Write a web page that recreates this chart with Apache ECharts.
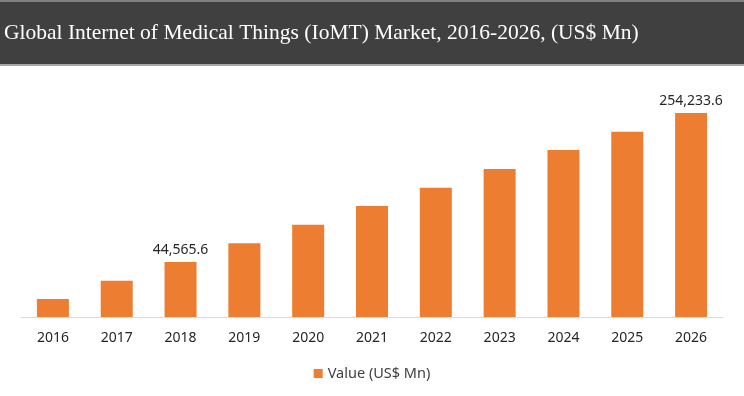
<!DOCTYPE html>
<html>
<head>
<meta charset="utf-8">
<script src="https://cdn.jsdelivr.net/npm/echarts@6/dist/echarts.min.js"></script>
<style>
    html, body { margin: 0; padding: 0; background: #fff; }
    #chart { width: 744px; height: 396px; }
</style>
</head>
<body>
<div id="chart"></div>
<script>
var titleText = 'Global Internet of Medical Things (IoMT) Market, 2016-2026, (US$ Mn)';
var seriesName = 'Value (US$ Mn)';
var years = ['2016', '2017', '2018', '2019', '2020', '2021', '2022', '2023', '2024', '2025', '2026'];
var values = [28930, 35840, 44565.6, 55450, 68900, 85780, 106200, 132200, 164970, 204340, 254233.6];
var labeledYears = ['2018', '2026'];

var myChart = echarts.init(document.getElementById('chart'));

function fmt(v) {
    var parts = v.toFixed(1).split('.');
    return parts[0].replace(/\B(?=(\d{3})+(?!\d))/g, ',') + '.' + parts[1];
}

var barData = [];
for (var i = 0; i < years.length; i++) {
    barData.push({
        value: values[i],
        label: { show: labeledYears.indexOf(years[i]) >= 0 }
    });
}

var option = {
    animation: false,
    backgroundColor: '#fff',
    textStyle: { fontFamily: 'Noto Sans' },
    graphic: [
        { type: 'rect', left: 0, top: 0, shape: { width: 744, height: 2 }, style: { fill: '#808080' } },
        { type: 'rect', left: 0, top: 2, shape: { width: 744, height: 62 }, style: { fill: '#404040' } },
        { type: 'rect', left: 0, top: 64, shape: { width: 744, height: 2 }, style: { fill: '#a6a6a6' } },
        {
            type: 'text', left: 4, top: 22,
            style: { text: titleText, fill: '#fff', font: '21.5px "Liberation Serif"' }
        }
    ],
    grid: {
        left: 21,
        right: 21,
        top: 100,
        bottom: 79
    },
    legend: {
        bottom: 10,
        left: 'center',
        icon: 'rect',
        itemWidth: 9,
        itemHeight: 9,
        textStyle: { fontSize: 14.5, color: '#404040', fontFamily: 'Noto Sans' },
        data: [seriesName]
    },
    xAxis: {
        type: 'category',
        data: years,
        axisTick: { show: false },
        axisLine: { lineStyle: { color: '#d9d9d9', width: 1 } },
        axisLabel: { color: '#262626', fontSize: 14, margin: 14, fontFamily: 'Noto Sans' }
    },
    yAxis: {
        type: 'log',
        min: 23436,
        max: 296000,
        show: false,
        splitLine: { show: false }
    },
    series: [{
        name: seriesName,
        type: 'bar',
        barWidth: 32,
        data: barData,
        itemStyle: { color: '#ed7d31' },
        label: {
            position: 'top',
            distance: 5,
            color: '#262626',
            fontSize: 14,
            fontFamily: 'Noto Sans',
            formatter: function (p) { return fmt(p.value); }
        }
    }]
};
myChart.setOption(option);
</script>
</body>
</html>
